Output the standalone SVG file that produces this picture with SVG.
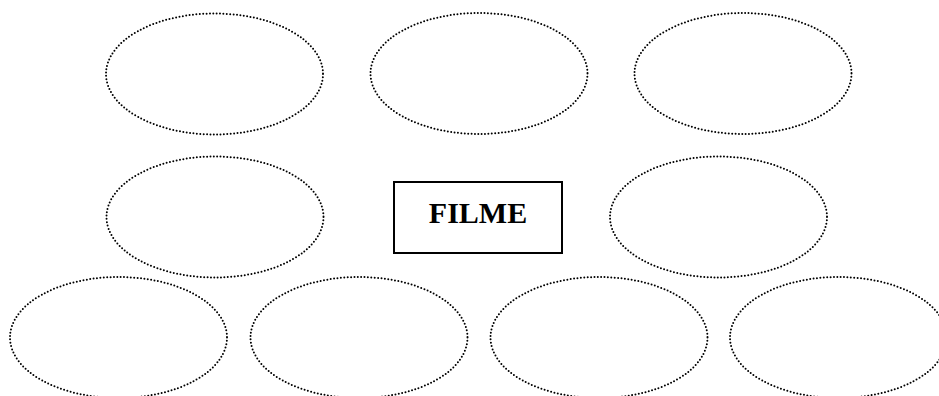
<svg xmlns="http://www.w3.org/2000/svg" width="939" height="396" viewBox="0 0 939 396">
<style>
.dot{fill:none;stroke:#000;stroke-width:2;stroke-linecap:round;stroke-dasharray:0 3.4}
.box{fill:#fff;stroke:#000;stroke-width:2}
.lbl{font-family:"Liberation Serif","Times New Roman",serif;font-weight:bold;font-size:30px;fill:#000}
</style>
<rect width="939" height="396" fill="#fff"/>
<g id="connectors"></g>
<g id="e1"><ellipse class="dot" cx="214.5" cy="74" rx="108.5" ry="60.5"/></g>
<g id="e2"><ellipse class="dot" cx="479" cy="73.5" rx="108.5" ry="60.5"/></g>
<g id="e3"><ellipse class="dot" cx="743" cy="73.5" rx="108.5" ry="60.5"/></g>
<g id="e4"><ellipse class="dot" cx="215" cy="217" rx="108.5" ry="60.5"/></g>
<g id="e5"><ellipse class="dot" cx="718.5" cy="217" rx="108.5" ry="60.5"/></g>
<g id="e6"><ellipse class="dot" cx="118.5" cy="337.5" rx="108.5" ry="60.5"/></g>
<g id="e7"><ellipse class="dot" cx="359" cy="337.5" rx="108.5" ry="60.5"/></g>
<g id="e8"><ellipse class="dot" cx="599" cy="337.5" rx="108.5" ry="60.5"/></g>
<g id="e9"><ellipse class="dot" cx="838.5" cy="337.5" rx="108.5" ry="60.5"/></g>
<g id="filme">
<rect class="box" x="394" y="182" width="168" height="71"/>
<text class="lbl" x="478" y="223" text-anchor="middle">FILME</text>
</g>
</svg>
